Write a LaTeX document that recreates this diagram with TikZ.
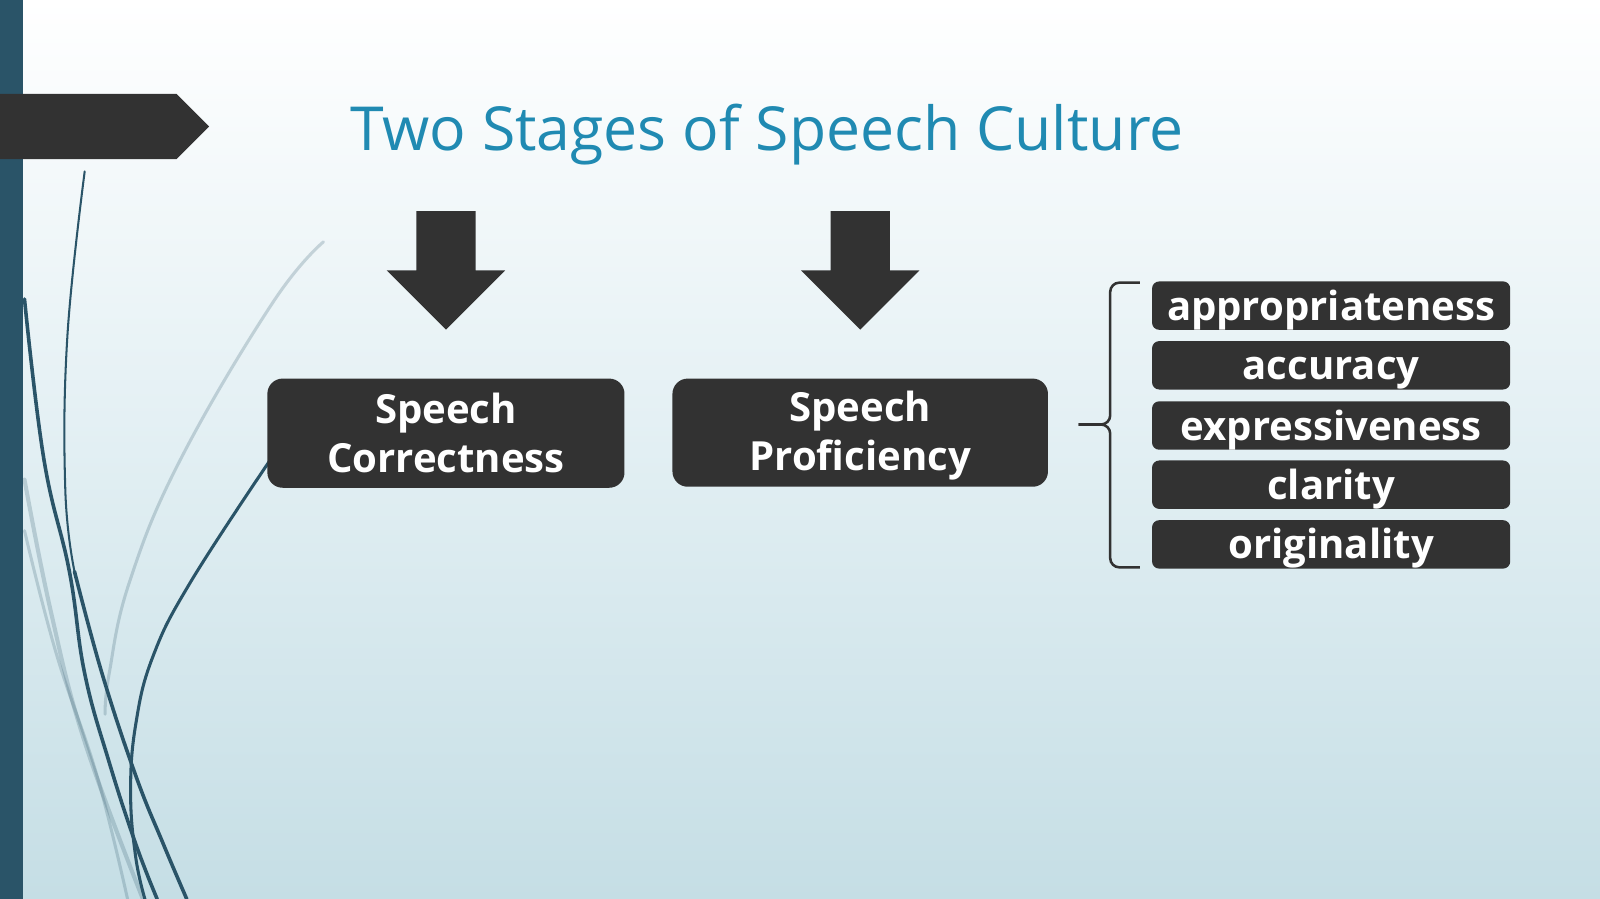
\documentclass[tikz,border=0pt]{standalone}
\usepackage{fontspec}
\setmainfont{Open Sans}
\definecolor{bgbot}{RGB}{197,222,229}
\definecolor{teal}{RGB}{42,84,104}
\definecolor{charcoal}{RGB}{50,50,50}
\definecolor{titleblue}{RGB}{32,138,178}
\newcommand\bigstrut{\rule[-6pt]{0pt}{42pt}}
\newcommand\itemstrut{\rule[-2pt]{0pt}{40pt}}
\tikzset{
  stagebox/.style={fill=charcoal, rounded corners=15pt, inner sep=0pt, text=white,
    font=\bfseries\fontsize{39.3}{48}\selectfont, align=center},
  itembox/.style={fill=charcoal, rounded corners=7pt, inner sep=0pt, text=white,
    minimum width=351pt, minimum height=47pt, font=\bfseries\fontsize{39.3}{46}\selectfont},
  curve/.style={draw=teal, line cap=round},
  faint/.style={draw=teal, opacity=0.22, line cap=round},
  blockarrow/.style={fill=charcoal},
  bracket/.style={draw=charcoal, line width=2.5pt, rounded corners=9pt}
}
\begin{document}
\begin{tikzpicture}[x=1pt,y=-1pt]
\useasboundingbox (0,0) rectangle (1568,881);
\shade[top color=white, bottom color=bgbot, middle color={rgb,255:red,226;green,239;blue,243}] (0,0) rectangle (1568,881);

% decorative curves
\draw[faint, line width=3pt] plot[smooth, tension=0.7] coordinates {(317,237) (267,297) (177,450) (127,570) (107,660) (103,700)};
\draw[faint, line width=4pt] plot[smooth, tension=0.7] coordinates {(24,470) (50,600) (83,727) (140,881)};
\draw[faint, line width=3pt] plot[smooth, tension=0.7] coordinates {(24,520) (55,640) (95,760) (125,881)};
\draw[curve, line width=2pt] plot[smooth, tension=0.7] coordinates {(83,168) (66,330) (64,480) (73,560)};
\draw[curve, line width=3.5pt] plot[smooth, tension=0.7] coordinates {(73,560) (100,660) (133,760) (160,827) (183,881)};
\draw[curve, line width=3.5pt] plot[smooth, tension=0.7] coordinates {(24,293) (43,450) (68,560) (83,660) (107,747) (133,827) (154,881)};
\draw[curve, line width=3pt] plot[smooth, tension=0.7] coordinates {(264,452) (187,570) (150,643) (133,710) (128,777) (133,840) (142,881)};

% left bar and title tab
\fill[teal] (0,0) rectangle (23,881);
\fill[charcoal] (0,92) -- (173,92) -- (205,124) -- (173,156) -- (0,156) -- cycle;

\node[text=titleblue, font=\fontsize{59.5}{68}\selectfont, anchor=base] (title) at (751.5,147) {Two Stages of Speech Culture};

% block arrows
\fill[blockarrow] (408,207) -- (466,207) -- (466,265) -- (495,265) -- (437,323) -- (379,265) -- (408,265) -- cycle;
\fill[blockarrow] (814,207) -- (872,207) -- (872,265) -- (901,265) -- (843,323) -- (785,265) -- (814,265) -- cycle;

% stage boxes
\node[stagebox, minimum width=350pt, minimum height=107pt] (sc) at (437,424.5) {\bigstrut Speech\\\bigstrut Correctness};
\node[stagebox, minimum width=368pt, minimum height=106pt] (sp) at (843,424) {\bigstrut Speech\\\bigstrut Proficiency};

% items
\node[itembox] (i1) at (1304.5,299.5) {\itemstrut appropriateness};
\node[itembox] (i2) at (1304.5,358) {\itemstrut accuracy};
\node[itembox] (i3) at (1304.5,417) {\itemstrut expressiveness};
\node[itembox] (i4) at (1304.5,475) {\itemstrut clarity};
\node[itembox] (i5) at (1304.5,533.5) {\itemstrut originality};

% bracket
\draw[bracket] (1117,277) -- (1088,277) -- (1088,416) -- (1057,416);
\draw[bracket] (1057,416) -- (1088,416) -- (1088,556) -- (1117,556);
\end{tikzpicture}
\end{document}
